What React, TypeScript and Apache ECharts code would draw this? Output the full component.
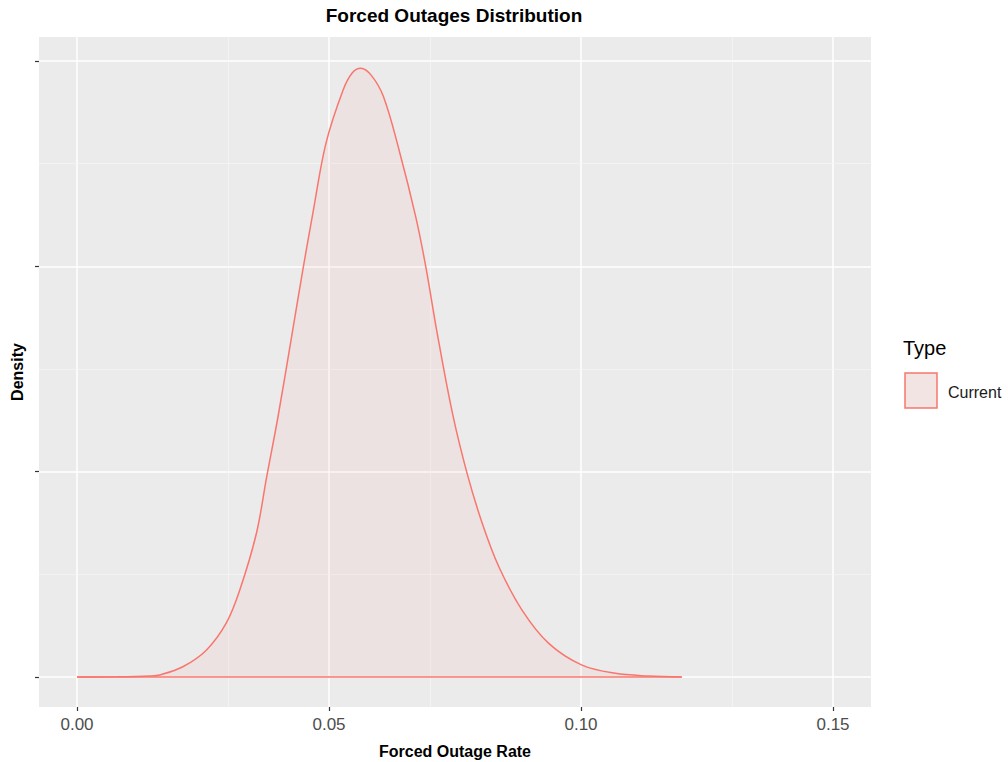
import React, { useEffect, useRef } from 'react';
import * as echarts from 'echarts';

// Forced outage rate (x) and estimated density (y)
const rates = [0, 0.008, 0.0145, 0.0164, 0.021, 0.0257, 0.0296, 0.0323, 0.0356, 0.0376, 0.0399, 0.0426, 0.0448, 0.0468, 0.0494, 0.0528, 0.0546, 0.0563, 0.0584, 0.0608, 0.0639, 0.0672, 0.0692, 0.0715, 0.0745, 0.0774, 0.0804, 0.0837, 0.0883, 0.0936, 0.1002, 0.1068, 0.1134, 0.12];
const densities = [0, 0.01, 0.05, 0.1, 0.5, 1.32, 2.62, 4.24, 7.0, 9.7, 12.7, 16.6, 19.82, 22.59, 26.0, 28.59, 29.42, 29.65, 29.3, 28.27, 25.67, 22.42, 19.99, 16.7, 12.84, 9.92, 7.49, 5.37, 3.26, 1.64, 0.58, 0.18, 0.05, 0];
const baseline = [[0, 0], [0.12, 0]];

const xTicks = [0, 0.05, 0.1, 0.15];
const yTicks = [0, 10, 20, 30];
const xMinor = [0.025, 0.075, 0.125];
const yMinor = [5, 15, 25];

const titleText = 'Forced Outages Distribution';
const xName = 'Forced Outage Rate';
const yName = 'Density';
const legendTitle = 'Type';
const seriesName = 'Current';

const FONT = '"Liberation Sans", Arial, sans-serif';
const RED = '#F8766D';

export default function App() {
  const ref = useRef<HTMLDivElement>(null);
  useEffect(() => {
    const chart = echarts.init(ref.current!, null, { renderer: 'svg' });
    chart.setOption({
      animation: false,
      textStyle: { fontFamily: FONT },
      title: {
        text: titleText,
        left: 454,
        top: 6,
        textAlign: 'center',
        padding: 0,
        textStyle: { fontFamily: FONT, fontSize: 19, fontWeight: 'bold', color: '#000' },
      },
      grid: {
        left: 39,
        right: 137,
        top: 37,
        bottom: 55,
        show: true,
        backgroundColor: '#EBEBEB',
        borderWidth: 0,
        containLabel: false,
        outerBoundsMode: 'none',
      },
      xAxis: {
        type: 'value',
        min: -0.00754,
        max: 0.15754,
        axisLine: { show: false, onZero: false },
        axisTick: { show: true, length: 4, customValues: xTicks, lineStyle: { color: '#333333', width: 1.2 } },
        axisLabel: {
          customValues: xTicks,
          formatter: (v: number) => v.toFixed(2),
          color: '#4D4D4D',
          fontSize: 17,
          margin: 9,
          fontFamily: FONT,
        },
        splitLine: { show: true, lineStyle: { color: '#FFFFFF', width: 1.5 } },
        name: xName,
        nameLocation: 'middle',
        nameGap: 36,
        nameTextStyle: { fontFamily: FONT, fontWeight: 'bold', fontSize: 16, color: '#000' },
      },
      yAxis: {
        type: 'value',
        min: -1.46,
        max: 31.17,
        axisLine: { show: false, onZero: false },
        axisTick: { show: true, length: 4, customValues: yTicks, lineStyle: { color: '#333333', width: 1.2 } },
        axisLabel: { show: false, customValues: yTicks },
        splitLine: { show: true, lineStyle: { color: '#FFFFFF', width: 1.5 } },
        name: yName,
        nameLocation: 'middle',
        nameGap: 14,
        nameTextStyle: { fontFamily: FONT, fontWeight: 'bold', fontSize: 16, color: '#000' },
      },
      series: [
        {
          type: 'line',
          name: seriesName,
          data: rates.map((x, i) => [x, densities[i]]),
          smooth: 0.35,
          symbol: 'none',
          silent: true,
          z: 2,
          lineStyle: { color: RED, width: 1.5 },
          areaStyle: { color: 'rgba(248,118,109,0.1)', origin: 0 },
          markLine: {
            silent: true,
            symbol: 'none',
            z: 1,
            animation: false,
            label: { show: false },
            lineStyle: { color: '#F5F5F5', width: 0.8, type: 'solid' },
            data: [...xMinor.map((v) => ({ xAxis: v })), ...yMinor.map((v) => ({ yAxis: v }))],
          },
        },
        {
          type: 'line',
          name: seriesName + ' baseline',
          data: baseline,
          symbol: 'none',
          silent: true,
          z: 3,
          lineStyle: { color: RED, width: 1.5 },
        },
      ],
      graphic: [
        {
          type: 'text',
          left: 903,
          top: 338,
          style: { text: legendTitle, fontSize: 20, fill: '#000', fontFamily: FONT },
        },
        {
          type: 'rect',
          shape: { x: 905, y: 373, width: 32, height: 35 },
          style: { fill: '#F2E4E3', stroke: RED, lineWidth: 1.5 },
        },
        {
          type: 'text',
          x: 948,
          y: 392,
          style: { text: seriesName, fontSize: 16, fill: '#1A1A1A', fontFamily: FONT, verticalAlign: 'middle' },
        },
      ],
    });
    return () => chart.dispose();
  }, []);
  return (
    <div
      ref={ref}
      style={{ position: 'fixed', left: 0, top: 0, width: 1008, height: 762, background: '#FFFFFF' }}
    />
  );
}
